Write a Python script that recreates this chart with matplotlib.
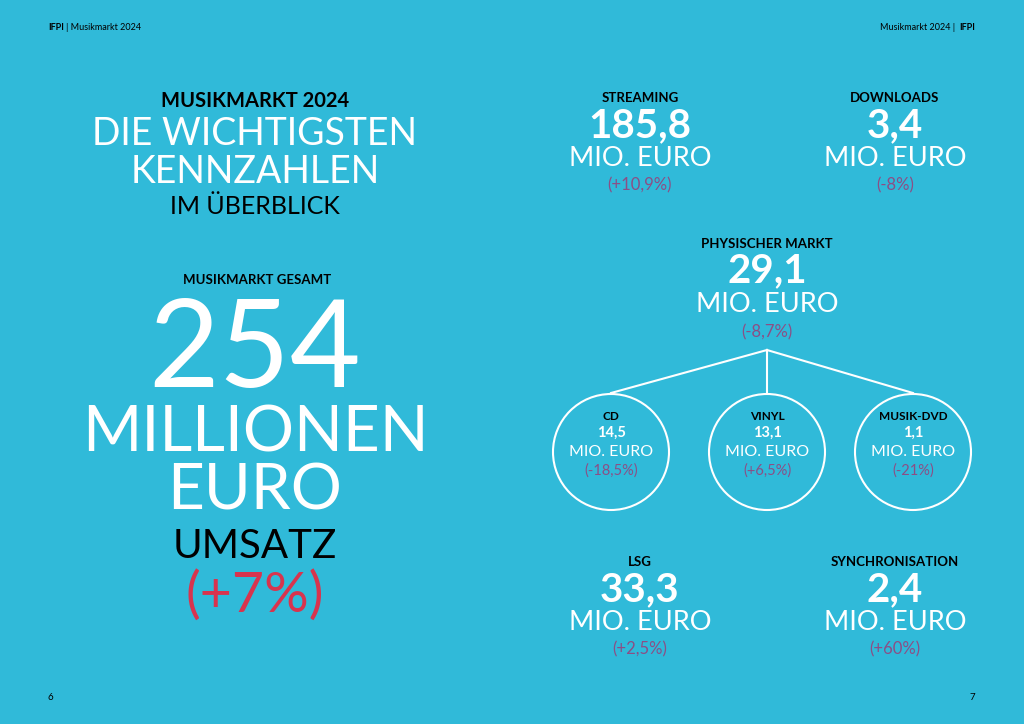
import matplotlib
matplotlib.use("Agg")
import matplotlib.pyplot as plt
from matplotlib.patches import Circle

BG = "#30BAD9"
RED = "#D8344E"
PURPLE = "#8B4F86"
FONT = "Lato"

total_value = "254"
segments = ["STREAMING", "DOWNLOADS", "PHYSISCHER MARKT", "LSG", "SYNCHRONISATION"]
seg_values = ["185,8", "3,4", "29,1", "33,3", "2,4"]
seg_changes = ["(+10,9%)", "(-8%)", "(-8,7%)", "(+2,5%)", "(+60%)"]
phys_cats = ["CD", "VINYL", "MUSIK-DVD"]
phys_values = ["14,5", "13,1", "1,1"]
phys_changes = ["(-18,5%)", "(+6,5%)", "(-21%)"]

fig = plt.figure(figsize=(10.24, 7.24), dpi=100, facecolor=BG)
ax = fig.add_axes([0, 0, 1, 1])
ax.set_xlim(0, 1024); ax.set_ylim(724, 0); ax.axis("off")
ax.set_facecolor(BG)

def t(x, y, s, size, w="normal", c="white", ha="center"):
    ax.text(x, y, s, fontsize=size, fontweight=w, color=c, ha=ha, va="center", family=FONT)

# header / footer
ax.text(48, 27, "IFPI", fontsize=6.5, fontweight="bold", color="black", va="center", family=FONT)
ax.text(66, 27, "| Musikmarkt 2024", fontsize=6.5, color="black", va="center", family=FONT)
ax.text(955, 27, "Musikmarkt 2024 |", fontsize=6.5, color="black", va="center", ha="right", family=FONT)
ax.text(975, 27, "IFPI", fontsize=6.5, fontweight="bold", color="black", va="center", ha="right", family=FONT)
t(50, 697, "6", 7, c="black")
t(972, 697, "7", 7, c="black")

# left side
t(255, 101, "MUSIKMARKT 2024", 14.5, "bold", "black")
t(255, 134, "DIE WICHTIGSTEN", 27)
t(255, 172, "KENNZAHLEN", 27)
t(255, 206, "IM ÜBERBLICK", 18, "normal", "black")
t(257, 280, "MUSIKMARKT GESAMT", 9.5, "bold", "black")
t(255, 352, total_value, 88, "normal")
t(255, 433, "MILLIONEN", 46)
t(255, 492, "EURO", 46)
t(255, 546, "UMSATZ", 29, "normal", "black")
t(255, 596, "(+7%)", 40, "normal", RED)

# right side segments
pos = [(640, 0), (895, 0), (767, 1), (640, 2), (895, 2)]
rows = [(98, 126, 159, 185), (244, 271, 304, 332), (562, 590, 622, 649)]
for (x, r), name, v, ch in zip(pos, segments, seg_values, seg_changes):
    y0, y1, y2, y3 = rows[r]
    t(x, y0, name, 9.5, "bold", "black")
    t(x, y1, v, 29, "bold")
    t(x, y2, "MIO. EURO", 19.5)
    t(x, y3, ch, 12, "normal", PURPLE)

# tree and circles
cx = [611, 767, 913]
cy, rad = 452, 58
for x in cx:
    ax.plot([767, x], [350, cy - rad - 1], color="white", lw=1.5)
for x, name, v, ch in zip(cx, phys_cats, phys_values, phys_changes):
    ax.add_patch(Circle((x, cy), rad, fill=False, ec="white", lw=1.5))
    t(x, 416, name, 8.5, "bold", "black")
    t(x, 433, v, 10.5, "bold")
    t(x, 452, "MIO. EURO", 11.5)
    t(x, 471, ch, 10.5, "normal", PURPLE)

fig.savefig("out.png", dpi=100, facecolor=BG)
